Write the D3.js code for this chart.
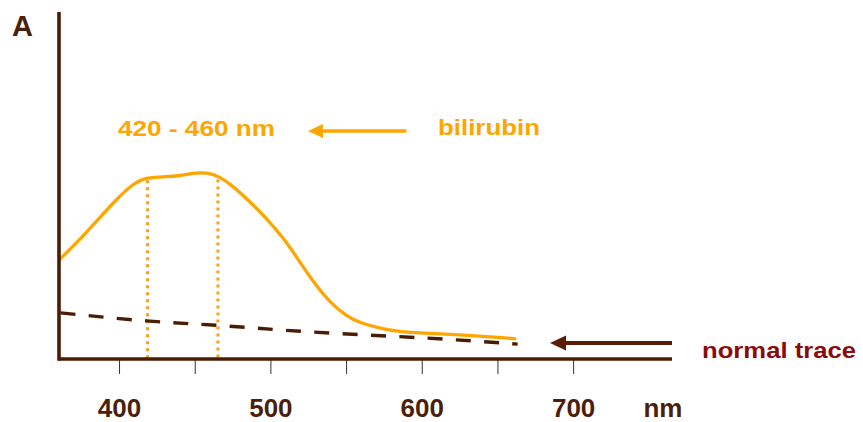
<!DOCTYPE html>
<html>
<head>
<meta charset="utf-8">
<script src="https://cdn.jsdelivr.net/npm/d3@7"></script>
<style>
  html, body { margin: 0; padding: 0; background: #fff; }
  svg { display: block; }
  text { font-family: "Liberation Sans", Arial, sans-serif; font-weight: bold; }
</style>
</head>
<body>
<script>
// ---- data (wavelength in nm, absorbance in arbitrary units) ----
const bilirubinNm = [360, 374, 387, 398, 409, 418, 431, 440, 448, 458, 466, 475, 486, 497, 508, 517, 528, 539, 550, 559, 572, 583, 605, 627, 649, 662];
const bilirubinA  = [28.5, 34.5, 40.8, 46.0, 50.6, 52.4, 52.5, 52.8, 53.6, 53.8, 52.6, 49.8, 45.4, 40.6, 35.0, 29.4, 22.2, 16.3, 12.3, 10.4, 8.9, 7.9, 7.4, 6.9, 6.3, 5.8];
const normalNm = [361, 420, 466, 519, 605, 663];
const normalA  = [13.3, 10.7, 9.8, 7.8, 6.1, 4.3];
const markerNm = [418.5, 465];           // dotted drop lines under the plateau
const markerA  = [52.4, 52.6];
const tickValues = [400, 450, 500, 550, 600, 650, 700];
const tickLabels = [400, 500, 600, 700];
const rangeLabel = "420 - 460 nm";
const bilirubinLabel = "bilirubin";
const normalLabel = "normal trace";
const xUnit = "nm";
const yUnit = "A";

const W = 863, H = 422;
const svg = d3.select("body").append("svg").attr("width", W).attr("height", H);

const x = d3.scaleLinear().domain([360, 765]).range([59, 672]);
const y = d3.scaleLinear().domain([0, 100]).range([359, 12]);

const ORANGE = "#FFA500";
const BROWN = "#4a1c04";
const LABEL = "#4a1f0c";

// dotted drop lines
svg.selectAll("line.marker").data(d3.zip(markerNm, markerA)).enter().append("line")
  .attr("class", "marker")
  .attr("x1", d => x(d[0])).attr("x2", d => x(d[0]))
  .attr("y1", d => y(d[1]) + 3)
  .attr("y2", y(0))
  .attr("stroke", "#F5A21E").attr("stroke-width", 3)
  .attr("stroke-dasharray", "3,4");

// normal trace (dashed)
const smooth = d3.line().x(d => x(d[0])).y(d => y(d[1])).curve(d3.curveBasis);
svg.append("path")
  .datum(d3.zip(normalNm, normalA))
  .attr("d", smooth)
  .attr("fill", "none").attr("stroke", BROWN).attr("stroke-width", 3.4)
  .attr("stroke-dasharray", "15,13.3");

// bilirubin curve
svg.append("path")
  .datum(d3.zip(bilirubinNm, bilirubinA))
  .attr("d", smooth)
  .attr("fill", "none").attr("stroke", ORANGE).attr("stroke-width", 3.3)
  .attr("stroke-linejoin", "round");

// ticks
svg.selectAll("line.tick").data(tickValues).enter().append("line")
  .attr("class", "tick")
  .attr("x1", d => x(d)).attr("x2", d => x(d))
  .attr("y1", y(0)).attr("y2", y(0) + 15)
  .attr("stroke", "#333").attr("stroke-width", 1);

// axes
svg.append("line")
  .attr("x1", x(360)).attr("x2", x(765)).attr("y1", y(0)).attr("y2", y(0))
  .attr("stroke", BROWN).attr("stroke-width", 3.6);
svg.append("line")
  .attr("x1", x(360)).attr("x2", x(360)).attr("y1", y(100)).attr("y2", y(0) + 1.8)
  .attr("stroke", BROWN).attr("stroke-width", 3.6);

// tick labels
svg.selectAll("text.tl").data(tickLabels).enter().append("text")
  .attr("class", "tl")
  .attr("x", d => x(d)).attr("y", 417)
  .attr("text-anchor", "middle")
  .attr("font-size", 26).attr("fill", LABEL)
  .text(d => d);
svg.append("text").attr("x", x(759)).attr("y", 417).attr("text-anchor", "middle")
  .attr("font-size", 26).attr("fill", LABEL).text(xUnit);
svg.append("text").attr("x", 12).attr("y", 36)
  .attr("font-size", 29).attr("fill", LABEL).text(yUnit);

// annotation: range label
svg.append("text").attr("x", 118).attr("y", 136)
  .attr("font-size", 22).attr("fill", ORANGE)
  .attr("textLength", 157).attr("lengthAdjust", "spacingAndGlyphs")
  .text(rangeLabel);

// arrows
function arrow(x1, x2, yy, color, w, hl, hw) {
  svg.append("line").attr("x1", x1).attr("x2", x2 + hl - 2).attr("y1", yy).attr("y2", yy)
    .attr("stroke", color).attr("stroke-width", w);
  svg.append("path")
    .attr("d", `M${x2},${yy} L${x2 + hl},${yy - hw} L${x2 + hl},${yy + hw} Z`)
    .attr("fill", color);
}
arrow(x(589.5), x(524.5), y(65.7), ORANGE, 3.6, 15, 7);
arrow(x(765), x(684.4), y(4.6), "#5a1e06", 4, 16, 7.5);

svg.append("text").attr("x", 438).attr("y", 135)
  .attr("font-size", 22).attr("fill", ORANGE)
  .attr("textLength", 102).attr("lengthAdjust", "spacingAndGlyphs")
  .text(bilirubinLabel);

svg.append("text").attr("x", 702).attr("y", 357.5)
  .attr("font-size", 21.5).attr("fill", "#8B0A0A")
  .attr("textLength", 154).attr("lengthAdjust", "spacingAndGlyphs")
  .text(normalLabel);
</script>
</body>
</html>
